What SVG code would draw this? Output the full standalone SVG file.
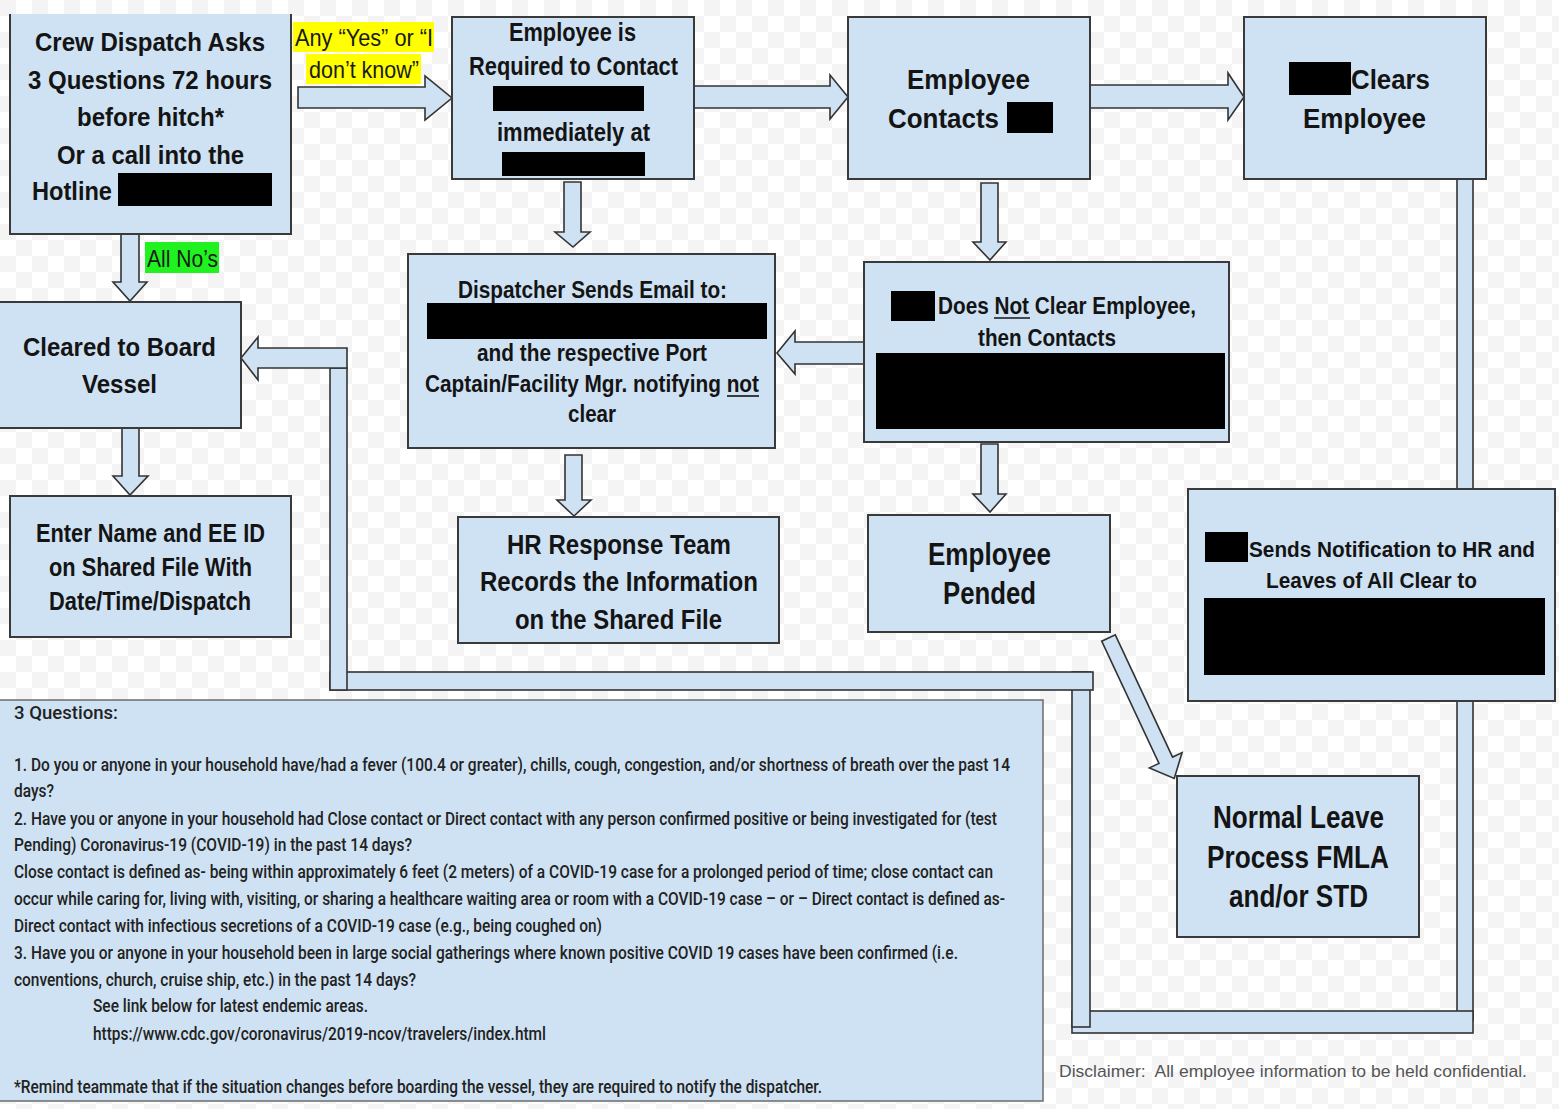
<svg xmlns="http://www.w3.org/2000/svg" width="1559" height="1109" viewBox="0 0 1559 1109">
<defs>
<pattern id="chk" x="0" y="0" width="32" height="32" patternUnits="userSpaceOnUse">
<rect width="32" height="32" fill="#ffffff"/>
<rect width="16" height="16" fill="#f4f4f5"/>
<rect x="16" y="16" width="16" height="16" fill="#f4f4f5"/>
</pattern>
<style>
.box{fill:#cfe2f3;stroke:#3a3a3a;stroke-width:2}
.arr{fill:#cfe2f3;stroke:#333333;stroke-width:1.6;stroke-linejoin:miter}
.t{font-family:"Liberation Sans",Arial,sans-serif;font-weight:bold;fill:#141414}
.c{text-anchor:middle}
.lbl{font-family:"Liberation Sans",Arial,sans-serif;font-weight:normal;fill:#1a1a1a;font-size:24px}
.q{font-family:Roboto,"Liberation Sans",sans-serif;font-weight:500;fill:#222;font-size:18px}
.red{fill:#000}
.ul{stroke:#141414;stroke-width:1.6}
</style>
</defs>
<rect width="1559" height="1109" fill="url(#chk)"/>

<g id="connectors">
<!-- return path from Clears Employee to Cleared to Board -->
<rect class="arr" x="1457" y="179" width="16" height="842"/>
<rect class="arr" x="1072" y="1011" width="401" height="22"/>
<rect class="arr" x="1072" y="672" width="18" height="355"/>
<rect class="arr" x="330" y="672" width="763" height="18"/>
<rect class="arr" x="330" y="368" width="17" height="322"/>
<path class="arr" d="M347,348 H258 V337 L241,358 L258,380 V368 H347 Z"/>
<!-- horizontal arrows -->
<path class="arr" d="M298,87 H425 V76 L452,98 L425,120 V108 H298 Z"/>
<path class="arr" d="M694,86 H830 V75 L848,97 L830,119 V108 H694 Z"/>
<path class="arr" d="M1090,85 H1228 V73 L1244,97 L1228,120 V108 H1090 Z"/>
<path class="arr" d="M864,342 H795 V331 L777,353 L795,374 V364 H864 Z"/>
<!-- vertical arrows -->
<path class="arr" d="M121,234 V282 H113 L130,301 L147,282 H139 V234 Z"/>
<path class="arr" d="M122,428 V476 H113 L130,495 L148,476 H139 V428 Z"/>
<path class="arr" d="M564,182 V232 H555 L573,247 L590,232 H581 V182 Z"/>
<path class="arr" d="M565,455 V500 H557 L574,516 L591,500 H582 V455 Z"/>
<path class="arr" d="M981,183 V242 H973 L990,260 L1006,242 H998 V183 Z"/>
<path class="arr" d="M981,444 V494 H973 L990,512 L1006,494 H998 V444 Z"/>
<!-- diagonal arrow -->
<path class="arr" transform="translate(1108.5,638) rotate(64.9)" d="M0,-7.5 H135 V-18 L155,0 L135,18 V7.5 H0 Z"/>
<!-- labels -->
<rect x="293" y="22" width="141" height="30" fill="#ffff00"/>
<rect x="306" y="54" width="115" height="30" fill="#ffff00"/>
<text class="lbl" x="295" y="46" textLength="138" lengthAdjust="spacingAndGlyphs">Any “Yes” or “I</text>
<text class="lbl" x="309" y="78" textLength="110" lengthAdjust="spacingAndGlyphs">don’t know”</text>
<rect x="145" y="242" width="74" height="31" fill="#1ff21f"/>
<text class="lbl" x="147" y="267" textLength="71" lengthAdjust="spacingAndGlyphs">All No’s</text>
</g>

<g id="n-crew-dispatch">
<rect x="10" y="14" width="281" height="220" fill="#cfe2f3"/>
<path d="M10,14 V234 H291 V14" fill="none" stroke="#3a3a3a" stroke-width="2"/>
<text class="t c" font-size="26" x="150" y="51" textLength="230" lengthAdjust="spacingAndGlyphs">Crew Dispatch Asks</text>
<text class="t c" font-size="26" x="150" y="89" textLength="244" lengthAdjust="spacingAndGlyphs">3 Questions 72 hours</text>
<text class="t c" font-size="26" x="150.5" y="126" textLength="147" lengthAdjust="spacingAndGlyphs">before hitch*</text>
<text class="t c" font-size="26" x="150.5" y="164" textLength="187" lengthAdjust="spacingAndGlyphs">Or a call into the</text>
<text class="t" font-size="26" x="32" y="200" textLength="80" lengthAdjust="spacingAndGlyphs">Hotline</text>
<rect class="red" x="118" y="173" width="154" height="33"/>
</g>

<g id="n-required-contact">
<rect class="box" x="452" y="17" width="242" height="162"/>
<text class="t c" font-size="25" x="572.5" y="41" textLength="127" lengthAdjust="spacingAndGlyphs">Employee is</text>
<text class="t c" font-size="25" x="573.5" y="75" textLength="209" lengthAdjust="spacingAndGlyphs">Required to Contact</text>
<rect class="red" x="493" y="86" width="151" height="25"/>
<text class="t c" font-size="25" x="573.5" y="141" textLength="153" lengthAdjust="spacingAndGlyphs">immediately at</text>
<rect class="red" x="502" y="152" width="143" height="24"/>
</g>

<g id="n-employee-contacts">
<rect class="box" x="848" y="17" width="242" height="162"/>
<text class="t c" font-size="28" x="968.5" y="89" textLength="123" lengthAdjust="spacingAndGlyphs">Employee</text>
<text class="t" font-size="28" x="888" y="128" textLength="111" lengthAdjust="spacingAndGlyphs">Contacts</text>
<rect class="red" x="1007" y="102" width="46" height="31"/>
</g>

<g id="n-clears-employee">
<rect class="box" x="1244" y="17" width="242" height="162"/>
<rect class="red" x="1289" y="62" width="62" height="33"/>
<text class="t" font-size="28" x="1351" y="89" textLength="79" lengthAdjust="spacingAndGlyphs">Clears</text>
<text class="t c" font-size="28" x="1364.5" y="128" textLength="123" lengthAdjust="spacingAndGlyphs">Employee</text>
</g>

<g id="n-cleared-board">
<rect class="box" x="-2" y="302" width="243" height="126"/>
<text class="t c" font-size="26" x="119.5" y="356" textLength="193" lengthAdjust="spacingAndGlyphs">Cleared to Board</text>
<text class="t c" font-size="26" x="119.5" y="393" textLength="75" lengthAdjust="spacingAndGlyphs">Vessel</text>
</g>

<g id="n-enter-name">
<rect class="box" x="10" y="496" width="281" height="141"/>
<text class="t c" font-size="25" x="150.5" y="542" textLength="229" lengthAdjust="spacingAndGlyphs">Enter Name and EE ID</text>
<text class="t c" font-size="25" x="150.5" y="576" textLength="203" lengthAdjust="spacingAndGlyphs">on Shared File With</text>
<text class="t c" font-size="25" x="150" y="610" textLength="202" lengthAdjust="spacingAndGlyphs">Date/Time/Dispatch</text>
</g>

<g id="n-dispatcher-email">
<rect class="box" x="408" y="254" width="367" height="194"/>
<text class="t c" font-size="23" x="592.5" y="298" textLength="269" lengthAdjust="spacingAndGlyphs">Dispatcher Sends Email to:</text>
<rect class="red" x="427" y="303" width="340" height="36"/>
<text class="t c" font-size="23" x="592" y="361" textLength="230" lengthAdjust="spacingAndGlyphs">and the respective Port</text>
<text class="t c" font-size="23" x="592" y="392" textLength="334" lengthAdjust="spacingAndGlyphs">Captain/Facility Mgr. notifying not</text>
<line class="ul" x1="727" y1="396" x2="759" y2="396"/>
<text class="t c" font-size="23" x="592" y="422" textLength="48" lengthAdjust="spacingAndGlyphs">clear</text>
</g>

<g id="n-hr-records">
<rect class="box" x="458" y="517" width="321" height="126"/>
<text class="t c" font-size="27" x="619" y="554" textLength="224" lengthAdjust="spacingAndGlyphs">HR Response Team</text>
<text class="t c" font-size="27" x="619" y="591" textLength="278" lengthAdjust="spacingAndGlyphs">Records the Information</text>
<text class="t c" font-size="27" x="618.5" y="629" textLength="207" lengthAdjust="spacingAndGlyphs">on the Shared File</text>
</g>

<g id="n-does-not-clear">
<rect class="box" x="864" y="262" width="365" height="180"/>
<rect class="red" x="891" y="291" width="44" height="30"/>
<text class="t" font-size="23" x="938" y="314" textLength="258" lengthAdjust="spacingAndGlyphs">Does Not Clear Employee,</text>
<line class="ul" x1="994" y1="318" x2="1030" y2="318"/>
<text class="t c" font-size="23" x="1047" y="346" textLength="138" lengthAdjust="spacingAndGlyphs">then Contacts</text>
<rect class="red" x="876" y="353" width="349" height="76"/>
</g>

<g id="n-employee-pended">
<rect class="box" x="868" y="515" width="242" height="117"/>
<text class="t c" font-size="31" x="989.5" y="565" textLength="123" lengthAdjust="spacingAndGlyphs">Employee</text>
<text class="t c" font-size="31" x="989.5" y="604" textLength="93" lengthAdjust="spacingAndGlyphs">Pended</text>
</g>

<g id="n-sends-notification">
<rect class="box" x="1188" y="489" width="367" height="212"/>
<rect class="red" x="1205" y="532" width="43" height="30"/>
<text class="t c" font-size="22" x="1392" y="557" textLength="286" lengthAdjust="spacingAndGlyphs">Sends Notification to HR and</text>
<text class="t c" font-size="22" x="1371.5" y="588" textLength="211" lengthAdjust="spacingAndGlyphs">Leaves of All Clear to</text>
<rect class="red" x="1204" y="598" width="341" height="77"/>
</g>

<g id="n-normal-leave">
<rect class="box" x="1177" y="776" width="242" height="161"/>
<text class="t c" font-size="31" x="1298.5" y="828" textLength="171" lengthAdjust="spacingAndGlyphs">Normal Leave</text>
<text class="t c" font-size="31" x="1298" y="868" textLength="182" lengthAdjust="spacingAndGlyphs">Process FMLA</text>
<text class="t c" font-size="31" x="1298.5" y="907" textLength="139" lengthAdjust="spacingAndGlyphs">and/or STD</text>
</g>

<g id="n-questions">
<rect x="-2" y="700" width="1045" height="401" fill="#cfe2f3" stroke="#6b6b6b" stroke-width="1.5"/>
<text class="q" x="14" y="719" textLength="104" lengthAdjust="spacingAndGlyphs">3 Questions:</text>
<text class="q" x="14" y="771" textLength="996" lengthAdjust="spacingAndGlyphs">1.  Do you or anyone in your household have/had a fever (100.4 or greater), chills, cough, congestion, and/or shortness of breath over the past 14</text>
<text class="q" x="14" y="797" textLength="40" lengthAdjust="spacingAndGlyphs">days?</text>
<text class="q" x="14" y="825" textLength="983" lengthAdjust="spacingAndGlyphs">2.  Have you or anyone in your household had Close contact or Direct contact with any person confirmed positive or being investigated for (test</text>
<text class="q" x="14" y="851" textLength="398" lengthAdjust="spacingAndGlyphs">Pending) Coronavirus-19 (COVID-19) in the past 14 days?</text>
<text class="q" x="14" y="878" textLength="979" lengthAdjust="spacingAndGlyphs">Close contact is defined as- being within approximately 6 feet (2 meters) of a COVID-19 case for a prolonged period of time; close contact can</text>
<text class="q" x="14" y="905" textLength="991" lengthAdjust="spacingAndGlyphs">occur while caring for, living with, visiting, or sharing a healthcare waiting area or room with a COVID-19 case – or – Direct contact is defined as-</text>
<text class="q" x="14" y="932" textLength="588" lengthAdjust="spacingAndGlyphs">Direct contact with infectious secretions of a COVID-19 case (e.g., being coughed on)</text>
<text class="q" x="14" y="959" textLength="944" lengthAdjust="spacingAndGlyphs">3.  Have you or anyone in your household been in large social gatherings where known positive COVID 19 cases have been confirmed (i.e.</text>
<text class="q" x="14" y="986" textLength="402" lengthAdjust="spacingAndGlyphs">conventions, church, cruise ship, etc.) in the past 14 days?</text>
<text class="q" x="93" y="1012" textLength="275" lengthAdjust="spacingAndGlyphs">See link below for latest endemic areas.</text>
<text class="q" x="93" y="1040" textLength="453" lengthAdjust="spacingAndGlyphs">https://www.cdc.gov/coronavirus/2019-ncov/travelers/index.html</text>
<text class="q" x="14" y="1093" textLength="808" lengthAdjust="spacingAndGlyphs">*Remind teammate that if the situation changes before boarding the vessel, they are required to notify the dispatcher.</text>
</g>

<g id="n-disclaimer">
<text x="1293" y="1077" text-anchor="middle" font-family="Liberation Sans, Arial, sans-serif" font-size="17" fill="#555" textLength="468" lengthAdjust="spacingAndGlyphs">Disclaimer:&#160; All employee information to be held confidential.</text>
</g>
</svg>
